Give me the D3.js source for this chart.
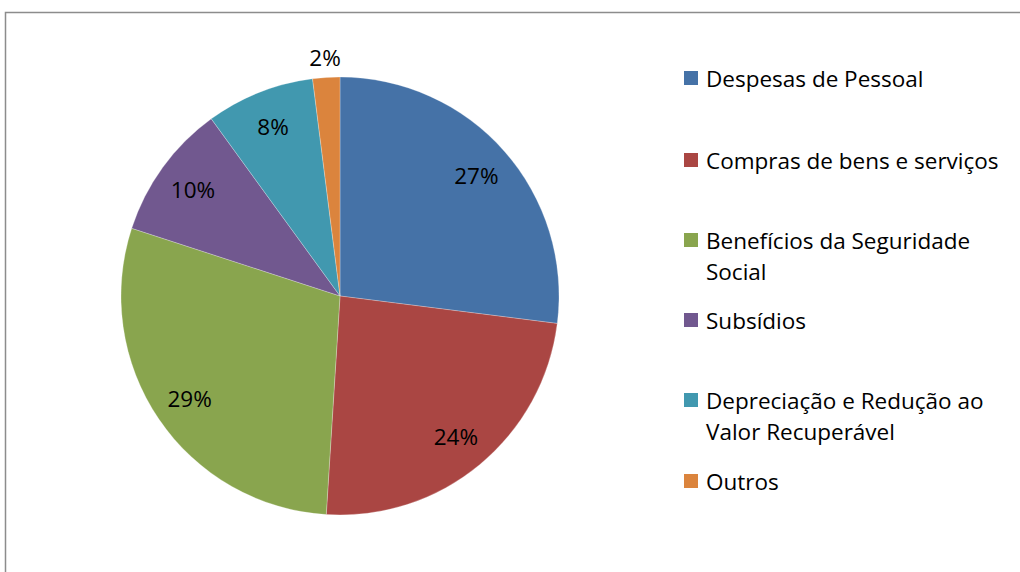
<!DOCTYPE html>
<html>
<head>
<meta charset="utf-8">
<script src="https://cdn.jsdelivr.net/npm/d3@7"></script>
<style>
  html, body { margin: 0; padding: 0; background: #fff; }
  svg { display: block; }
  text { font-family: "Open Sans", Lato, sans-serif; fill: #000; }
</style>
</head>
<body>
<svg id="chart" width="1020" height="572"></svg>
<script>
// Composição da despesa
const categories = [
  "Despesas de Pessoal",
  "Compras de bens e serviços",
  "Benefícios da Seguridade Social",
  "Subsídios",
  "Depreciação e Redução ao Valor Recuperável",
  "Outros"
];
const values = [27, 24, 29, 10, 8, 2];
const colors = ["#4572A7", "#AA4643", "#89A54E", "#71588F", "#4198AF", "#DB843D"];
// legend text broken into lines as displayed
const legendLines = [
  ["Despesas de Pessoal"],
  ["Compras de bens e serviços"],
  ["Benefícios da Seguridade", "Social"],
  ["Subsídios"],
  ["Depreciação e Redução ao", "Valor Recuperável"],
  ["Outros"]
];
const legendY = [78, 160, 240, 320, 400, 481];

const svg = d3.select("#chart");
const fontSize = 22.5;

// outer frame
svg.append("rect")
  .attr("x", 5.5).attr("y", 12.5)
  .attr("width", 1030).attr("height", 600)
  .attr("fill", "none")
  .attr("stroke", "#8c8c8c")
  .attr("stroke-width", 1.5);

const cx = 340, cy = 296, r = 219;
const g = svg.append("g").attr("transform", `translate(${cx},${cy})`);

const color = d3.scaleOrdinal().domain(categories).range(colors);
const pie = d3.pie().sort(null).value(d => d.value);
const data = categories.map((c, i) => ({ name: c, value: values[i] }));
const arcs = pie(data);

const arc = d3.arc().innerRadius(0).outerRadius(r);
g.selectAll("path.slice")
  .data(arcs)
  .enter().append("path")
  .attr("class", "slice")
  .attr("d", arc)
  .attr("fill", d => color(d.data.name))
  .attr("stroke", "#ffffff")
  .attr("stroke-opacity", 0.5)
  .attr("stroke-width", 0.5);

// percentage labels
const total = d3.sum(values);
const labelArcIn = d3.arc().innerRadius(r * 0.83).outerRadius(r * 0.83);
const labelArcOut = d3.arc().innerRadius(r * 1.09).outerRadius(r * 1.09);
g.selectAll("text.pct")
  .data(arcs)
  .enter().append("text")
  .attr("class", "pct")
  .attr("transform", d => {
    const a = (d.data.value / total) < 0.05 ? labelArcOut : labelArcIn;
    const [x, y] = a.centroid(d);
    return `translate(${x},${y})`;
  })
  .attr("text-anchor", "middle")
  .attr("dominant-baseline", "central")
  .style("font-size", fontSize + "px")
  .text(d => Math.round(d.data.value / total * 100) + "%");

// legend
const legend = svg.append("g");
categories.forEach((c, i) => {
  const y0 = legendY[i];
  legend.append("rect")
    .attr("x", 684).attr("y", y0 - 7)
    .attr("width", 14).attr("height", 14)
    .attr("fill", color(c));
  legendLines[i].forEach((line, j) => {
    legend.append("text")
      .attr("x", 706)
      .attr("y", y0 + j * 31)
      .attr("dominant-baseline", "central")
      .style("font-size", fontSize + "px")
      .text(line);
  });
});
</script>
</body>
</html>
